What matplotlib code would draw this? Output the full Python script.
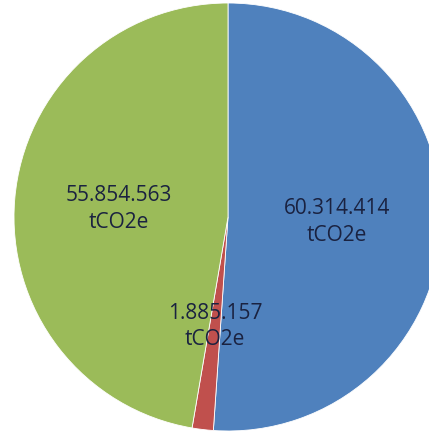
import matplotlib
matplotlib.use("Agg")
import matplotlib.pyplot as plt

# ================= DATA =================
nilai = [60314414, 1885157, 55854563]
label = ["60.314.414\ntCO2e", "1.885.157\ntCO2e", "55.854.563\ntCO2e"]
warna = ["#4F81BD", "#C0504D", "#9BBB59"]

# ================= FIGURE =================
W, H = 429, 435
fig = plt.figure(figsize=(W / 100, H / 100), dpi=100)
ax = fig.add_axes([0, 0, 1, 1])

wedges, texts = ax.pie(
    nilai,
    labels=label,
    colors=warna,
    startangle=90,
    counterclock=False,
    center=(228, H - 218),
    radius=214,
    labeldistance=0.51,
    wedgeprops=dict(edgecolor="white", linewidth=0.6),
    textprops=dict(fontsize=15, family="Open Sans", color="#1A2240",
                   ha="center", va="center", linespacing=1.35),
    frame=False,
)
for t in texts:
    t.set_horizontalalignment("center")
    t.set_multialignment("center")

ax.set_xlim(0, W)
ax.set_ylim(0, H)
ax.set_aspect("auto")
ax.axis("off")

fig.savefig("out.png", dpi=100, facecolor="white")
